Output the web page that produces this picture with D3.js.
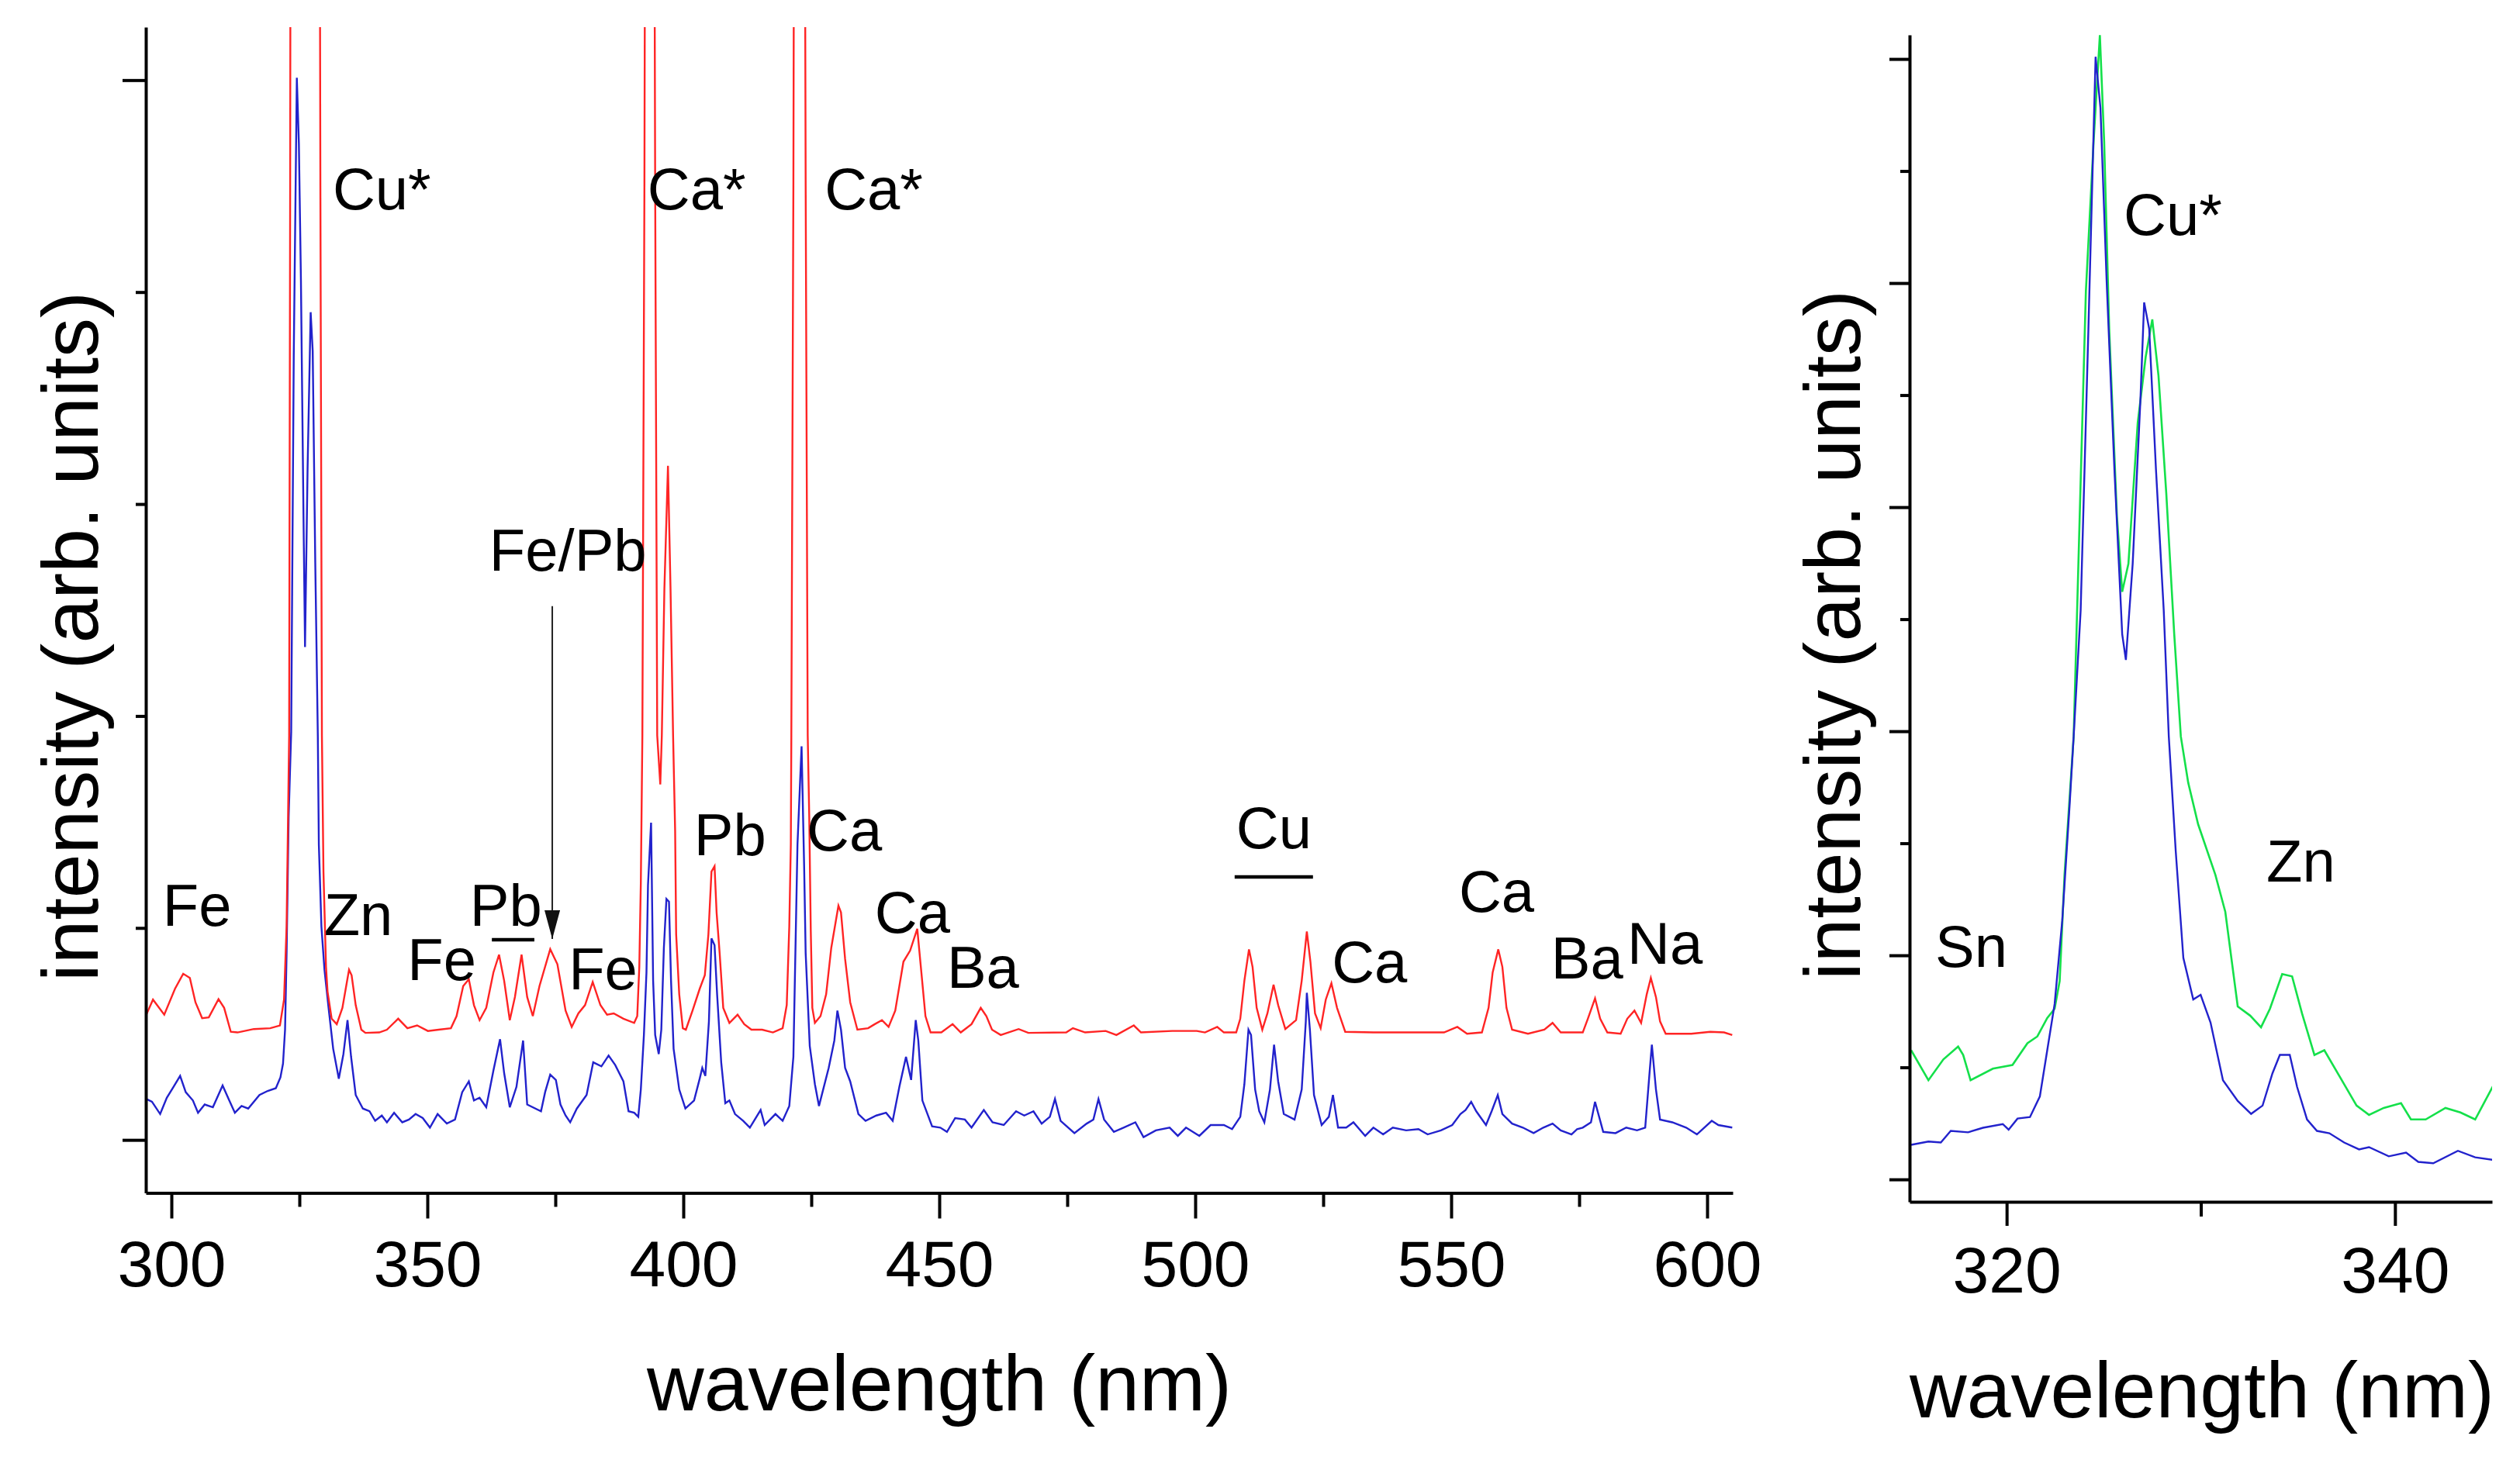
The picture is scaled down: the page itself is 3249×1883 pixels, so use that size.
<!DOCTYPE html>
<html>
<head>
<meta charset="utf-8">
<script src="https://cdn.jsdelivr.net/npm/d3@7"></script>
<style>
  body { margin: 0; background: #fff; }
  text { font-family: "Liberation Sans", Arial, sans-serif; fill: #000; }
</style>
</head>
<body>
<div id="chart"></div>
<script>
// main spectrum, red trace: [wavelength nm, intensity]
var mainRed = [
  [295.1,591],[296.4,662],[298.6,591],[300.7,713],[302.3,784],[303.6,764],[304.7,649],[306.0,574],
  [307.3,578],[309.2,664],[310.3,623],[311.6,510],[312.9,507],[316.1,523],[319.3,527],[321.2,540],
  [322.0,662],[322.5,1008],[322.7,1368],[323.0,1908],[323.2,4500],[323.4,9000],[324.7,12000],[326.0,9000],
  [327.4,11000],[328.8,8000],[329.1,4500],[329.4,1908],[329.7,1266],[330.2,816],[330.5,700],[331.3,572],
  [332.3,546],[333.4,623],[334.7,803],[335.2,777],[336.0,636],[337.1,520],[337.9,505],[340.6,507],
  [342.1,520],[344.3,572],[346.1,527],[348.0,540],[350.1,514],[352.2,520],[354.6,527],[355.7,584],
  [357.0,726],[358.1,758],[359.1,636],[360.2,565],[361.5,623],[362.9,790],[364.0,874],[365.0,751],
  [366.1,565],[367.1,674],[368.4,874],[369.5,674],[370.6,584],[371.9,726],[374.0,900],[375.4,829],
  [377.0,610],[378.2,533],[379.5,597],[380.8,636],[382.3,745],[383.8,636],[385.1,591],[386.4,597],
  [388.3,572],[390.4,552],[391.0,584],[391.4,816],[391.7,1214],[392.0,1908],[392.4,4500],[392.8,9000],
  [394.0,9000],[394.5,4500],[394.9,1908],[395.5,1677],[395.8,1908],[396.3,2600],[397.0,3180],[397.5,2600],
  [398.0,1908],[398.4,1458],[398.6,970],[399.2,687],[399.9,527],[400.5,520],[401.8,610],[403.2,713],
  [404.2,777],[404.9,970],[405.5,1266],[406.1,1291],[406.5,1073],[407.1,880],[407.8,623],[409.0,552],
  [410.6,591],[411.9,546],[413.3,520],[415.4,520],[417.5,507],[419.4,527],[420.2,636],[420.7,1008],
  [421.0,1394],[421.1,1908],[421.5,4500],[421.9,9000],[423.4,9000],[423.9,4500],[424.3,1908],[424.6,1522],
  [424.9,983],[425.2,623],[425.7,552],[426.8,584],[427.9,687],[428.9,906],[430.3,1105],[430.8,1073],
  [431.6,854],[432.6,649],[434.0,520],[436.1,527],[437.4,546],[438.8,565],[440.1,533],[441.4,610],
  [443.0,841],[444.3,893],[445.7,996],[446.5,790],[447.3,584],[448.3,507],[450.4,507],[452.6,546],
  [454.2,507],[456.3,546],[458.1,623],[459.2,584],[460.3,520],[462.0,495],[465.5,523],[467.4,505],
  [474.8,507],[476.1,527],[478.5,507],[482.5,514],[484.6,495],[488.0,540],[489.4,507],[495.5,514],
  [500.3,514],[501.9,507],[504.3,533],[505.6,507],[508.0,507],[508.8,572],[509.6,751],[510.5,899],
  [511.2,816],[512.0,623],[513.1,520],[514.1,597],[515.3,732],[516.2,636],[517.6,523],[519.7,565],
  [520.8,751],[521.8,983],[522.5,841],[523.4,597],[524.5,527],[525.5,662],[526.6,739],[527.7,623],
  [529.3,510],[534.8,507],[543.8,507],[548.6,507],[551.2,533],[553.1,501],[556.0,507],[557.3,623],
  [558.1,790],[559.2,899],[560.0,816],[560.8,623],[561.9,520],[565.0,501],[568.2,520],[569.8,552],
  [571.4,507],[575.7,507],[576.7,572],[578.1,668],[579.1,572],[580.5,507],[583.1,501],[584.4,572],
  [585.8,610],[587.1,552],[588.2,687],[589.0,764],[590.0,674],[590.8,559],[591.9,501],[596.9,501],
  [600.6,510],[603.3,507],[604.9,495]
];

// main spectrum, blue trace
var mainBlue = [
  [295.1,193],[296.2,180],[297.8,122],[299.1,199],[300.4,250],[301.7,302],[302.8,225],[304.2,186],
  [305.2,128],[306.5,167],[308.1,154],[310.0,257],[311.3,186],[312.4,128],[313.7,160],[315.0,148],
  [317.2,212],[318.8,231],[320.4,244],[321.3,295],[321.8,360],[322.2,520],[322.5,880],[322.9,1523],
  [323.4,1926],[323.9,3701],[324.5,5011],[324.9,4700],[325.3,4056],[325.8,2946],[326.1,2325],[326.6,3168],
  [327.2,3905],[327.6,3723],[328.1,2725],[328.6,1908],[328.8,1394],[329.3,1008],[329.9,803],[330.7,623],
  [331.6,430],[332.7,289],[333.6,405],[334.4,565],[335.1,392],[336.0,212],[337.4,148],[338.7,135],
  [339.8,90],[341.1,115],[342.1,83],[343.5,128],[345.1,83],[346.4,96],[347.7,122],[349.1,103],
  [350.5,58],[352.0,122],[353.8,77],[355.4,96],[356.8,225],[358.1,276],[359.1,186],[360.2,199],
  [361.5,154],[362.9,327],[364.2,475],[365.0,315],[366.1,154],[367.4,250],[368.7,469],[369.5,167],
  [372.2,135],[373.0,225],[374.0,308],[375.1,283],[376.0,167],[377.0,115],[377.9,83],[379.2,148],
  [381.1,212],[382.4,366],[384.0,347],[385.4,398],[386.7,353],[388.3,276],[389.3,135],[390.4,128],
  [391.2,109],[391.7,238],[392.3,495],[392.8,790],[393.1,1201],[393.7,1497],[394.1,752],[394.5,495],
  [395.2,405],[395.7,520],[396.2,906],[396.7,1137],[397.2,1124],[397.6,752],[398.1,430],[399.2,238],
  [400.4,148],[402.1,186],[403.2,289],[403.7,340],[404.3,302],[405.0,559],[405.5,951],[406.1,919],
  [406.6,687],[407.4,366],[408.2,173],[409.0,186],[410.1,122],[411.7,90],[413.0,58],[415.1,141],
  [415.9,70],[418.0,122],[419.4,90],[420.7,160],[421.5,392],[422.3,1394],[423.1,1857],[423.6,1291],
  [423.9,880],[424.7,443],[425.7,263],[426.5,160],[428.4,340],[429.5,469],[430.1,610],[430.8,520],
  [431.6,340],[432.6,276],[434.2,122],[435.6,90],[437.7,115],[439.6,128],[440.9,90],[442.2,250],
  [443.5,392],[444.5,283],[445.4,565],[445.9,469],[446.7,186],[448.6,64],[450.2,58],[451.5,38],
  [453.1,103],[455.0,96],[456.3,58],[458.7,141],[460.4,83],[462.6,70],[465.0,135],[466.6,115],
  [468.4,135],[470.0,77],[471.6,109],[472.6,193],[473.7,90],[476.4,32],[478.8,77],[480.1,96],
  [481.1,193],[482.2,96],[484.1,38],[486.0,58],[488.3,83],[489.9,13],[492.3,45],[495.0,58],
  [496.6,19],[498.2,58],[500.8,19],[503.0,70],[505.6,70],[507.2,51],[508.8,109],[509.6,263],
  [510.4,520],[510.9,495],[511.7,238],[512.5,135],[513.5,83],[514.6,238],[515.4,449],[516.2,276],
  [517.3,122],[519.4,96],[520.8,238],[521.6,559],[521.8,694],[522.4,520],[523.2,212],[524.7,70],
  [526.1,109],[526.9,212],[527.9,58],[529.5,58],[530.9,83],[533.2,19],[534.8,58],[536.7,26],
  [538.6,58],[541.2,45],[543.6,51],[545.4,26],[548.0,45],[550.2,70],[551.8,122],[552.8,141],
  [553.9,180],[554.9,135],[556.8,70],[557.9,135],[559.1,212],[560.0,122],[561.9,77],[564.0,58],
  [566.1,32],[568.0,58],[569.8,77],[571.4,45],[573.5,26],[574.6,51],[575.7,58],[577.3,83],
  [578.1,180],[578.9,109],[579.7,38],[582.1,32],[584.2,58],[586.3,45],[587.9,58],[588.7,302],
  [589.2,449],[590.0,238],[590.8,96],[593.2,83],[595.9,58],[598.0,26],[600.9,90],[602.2,70],
  [604.9,58]
];

// inset (Cu* region), green trace
var insetGreen = [
  [315.08,1153],[315.97,885],[316.74,1071],[317.50,1186],[317.76,1111],[318.14,885],[319.29,988],[320.30,1021],
  [321.07,1215],[321.58,1276],[322.09,1441],[322.47,1523],[322.73,1770],[322.98,2718],[323.45,3953],[324.08,7928],
  [324.48,9269],[324.80,10213],[325.02,9269],[325.28,7592],[325.68,5915],[325.95,5244],[326.27,5495],[326.75,6753],
  [327.16,7341],[327.50,7676],[327.82,7173],[328.22,6124],[328.63,4867],[328.97,3953],[329.35,3541],[329.86,3170],
  [330.75,2718],[331.26,2388],[331.90,1544],[332.54,1462],[333.10,1358],[333.56,1523],[334.19,1833],[334.70,1812],
  [335.21,1482],[335.85,1111],[336.36,1153],[337.12,927],[338.02,659],[338.66,576],[339.42,638],[340.31,680],
  [340.82,535],[341.58,535],[342.60,638],[343.37,597],[344.13,535],[344.64,700],[345.08,844]
];

// inset, blue trace
var insetBlue = [
  [315.08,309],[315.97,338],[316.61,329],[317.12,433],[318.01,420],[318.78,461],[319.80,494],[320.10,444],
  [320.56,543],[321.20,556],[321.71,741],[322.09,1153],[322.47,1565],[322.86,2306],[323.24,3335],[323.45,3953],
  [323.81,5077],[324.21,7592],[324.58,10020],[324.83,9563],[325.15,8013],[325.55,6334],[325.95,4867],[326.14,4636],
  [326.49,5495],[326.89,6963],[327.08,7828],[327.34,7592],[327.69,6334],[328.09,5077],[328.35,3953],[328.71,2923],
  [329.10,1976],[329.61,1606],[329.99,1647],[330.50,1400],[331.14,885],[331.90,700],[332.59,585],[333.18,659],
  [333.69,947],[334.07,1111],[334.58,1111],[334.96,824],[335.47,535],[335.98,433],[336.62,412],[337.38,329],
  [338.15,268],[338.66,288],[339.68,206],[340.57,239],[341.20,156],[341.97,144],[343.24,255],[344.13,197],
  [345.08,173]
];

// tick values
var mainXMajor = [300, 350, 400, 450, 500, 550, 600];
var mainXMinor = [325, 375, 425, 475, 525, 575];
var mainYMajor = [0, 5000];
var mainYMinor = [1000, 2000, 3000, 4000];
var insetXMajor = [320, 340];
var insetXMinor = [330];
var insetYMajor = [0, 2000, 4000, 6000, 8000, 10000];
var insetYMinor = [1000, 3000, 5000, 7000, 9000];

// peak labels: [text, wavelength, intensity]
var mainLabels = [
  ["Cu*", 331.5, 4391], ["Ca*", 393.0, 4391], ["Ca*", 427.6, 4391], ["Fe/Pb", 362.1, 2686],
  ["Fe", 298.3, 1010], ["Zn", 329.8, 966], ["Fe", 346.1, 754], ["Pb", 358.3, 1010],
  ["Fe", 377.6, 710], ["Pb", 402.1, 1343], ["Ca", 424.1, 1365], ["Ca", 437.4, 977],
  ["Ba", 451.5, 718], ["Cu", 508.0, 1376], ["Ca", 526.7, 743], ["Ca", 551.5, 1076],
  ["Ba", 569.5, 761], ["Na", 584.4, 831]
];
// group bars: [from, to, intensity]
var mainBars = [[362.6, 370.9, 944], [507.7, 523.0, 1241]];
var insetLabels = [["Cu*", 326.03, 8430], ["Sn", 316.32, 1897], ["Zn", 333.38, 2658]];

var W = 3249, H = 1883;

var svg = d3.select("#chart")
  .append("svg")
  .attr("width", W)
  .attr("height", H);

var defs = svg.append("defs");

// arrow head for Fe/Pb pointer
defs.append("marker")
  .attr("id", "arrow")
  .attr("viewBox", "0 0 37 20")
  .attr("refX", 37).attr("refY", 10)
  .attr("markerWidth", 37).attr("markerHeight", 20)
  .attr("markerUnits", "userSpaceOnUse")
  .attr("orient", "auto")
  .append("path")
  .attr("d", "M0,0 L37,10 L0,20 z")
  .attr("fill", "#111");

// ---------- main panel ----------
var x = d3.scaleLinear().domain([295, 605]).range([188, 2234]);
var y = d3.scaleLinear().domain([-250, 5250]).range([1538.5, 35]);

defs.append("clipPath").attr("id", "clipMain")
  .append("rect")
  .attr("x", x.range()[0]).attr("y", y.range()[1])
  .attr("width", x.range()[1] - x.range()[0])
  .attr("height", y.range()[0] - y.range()[1]);

var lineMain = d3.line()
  .x(function (d) { return x(d[0]); })
  .y(function (d) { return y(d[1]); });

svg.append("path")
  .datum(mainBlue)
  .attr("clip-path", "url(#clipMain)")
  .attr("fill", "none")
  .attr("stroke", "#2222cc")
  .attr("stroke-width", 2.4)
  .attr("d", lineMain);

svg.append("path")
  .datum(mainRed)
  .attr("clip-path", "url(#clipMain)")
  .attr("fill", "none")
  .attr("stroke", "#ff2424")
  .attr("stroke-width", 2.4)
  .attr("d", lineMain);

// x axis
var gx = svg.append("g")
  .attr("transform", "translate(0," + y.range()[0] + ")")
  .call(d3.axisBottom(x).tickValues(mainXMajor).tickSize(33).tickSizeOuter(0).tickFormat(d3.format("d")));
gx.append("g")
  .call(d3.axisBottom(x).tickValues(mainXMinor).tickSize(18).tickSizeOuter(0).tickFormat(""))
  .select(".domain").remove();
gx.selectAll("text")
  .attr("y", 120).attr("dy", 0)
  .style("font-size", "84px");

// y axis
var gy = svg.append("g")
  .attr("transform", "translate(" + x.range()[0] + ",0)")
  .call(d3.axisLeft(y).tickValues(mainYMajor).tickSize(30).tickSizeOuter(0).tickFormat(""));
gy.append("g")
  .call(d3.axisLeft(y).tickValues(mainYMinor).tickSize(13).tickSizeOuter(0).tickFormat(""))
  .select(".domain").remove();

// axis titles
svg.append("text")
  .attr("x", 1211).attr("y", 1819)
  .style("text-anchor", "middle")
  .style("font-size", "102px")
  .text("wavelength (nm)");

svg.append("text")
  .attr("transform", "translate(126,821) rotate(-90)")
  .style("text-anchor", "middle")
  .style("font-size", "102px")
  .text("intensity (arb. units)");

// peak labels
svg.append("g")
  .selectAll("text")
  .data(mainLabels)
  .enter()
  .append("text")
  .attr("x", function (d) { return x(d[1]); })
  .attr("y", function (d) { return y(d[2]); })
  .style("font-size", "76px")
  .text(function (d) { return d[0]; });

svg.append("g")
  .selectAll("line")
  .data(mainBars)
  .enter()
  .append("line")
  .attr("x1", function (d) { return x(d[0]); })
  .attr("x2", function (d) { return x(d[1]); })
  .attr("y1", function (d) { return y(d[2]); })
  .attr("y2", function (d) { return y(d[2]); })
  .attr("stroke", "#000")
  .attr("stroke-width", 4.5);

// Fe/Pb arrow
svg.append("line")
  .attr("x1", x(374.4)).attr("x2", x(374.4))
  .attr("y1", y(2518)).attr("y2", y(948))
  .attr("stroke", "#222")
  .attr("stroke-width", 2)
  .attr("marker-end", "url(#arrow)");

// ---------- inset panel ----------
var x2 = d3.scaleLinear().domain([315, 345]).range([2462, 3213]);
var y2 = d3.scaleLinear().domain([-200, 10215]).range([1550, 45]);

defs.append("clipPath").attr("id", "clipInset")
  .append("rect")
  .attr("x", x2.range()[0]).attr("y", y2.range()[1])
  .attr("width", x2.range()[1] - x2.range()[0])
  .attr("height", y2.range()[0] - y2.range()[1]);

var lineInset = d3.line()
  .x(function (d) { return x2(d[0]); })
  .y(function (d) { return y2(d[1]); });

svg.append("path")
  .datum(insetGreen)
  .attr("clip-path", "url(#clipInset)")
  .attr("fill", "none")
  .attr("stroke", "#14e04a")
  .attr("stroke-width", 2.6)
  .attr("d", lineInset);

svg.append("path")
  .datum(insetBlue)
  .attr("clip-path", "url(#clipInset)")
  .attr("fill", "none")
  .attr("stroke", "#2222cc")
  .attr("stroke-width", 2.4)
  .attr("d", lineInset);

var gx2 = svg.append("g")
  .attr("transform", "translate(0," + y2.range()[0] + ")")
  .call(d3.axisBottom(x2).tickValues(insetXMajor).tickSize(31).tickSizeOuter(0).tickFormat(d3.format("d")));
gx2.append("g")
  .call(d3.axisBottom(x2).tickValues(insetXMinor).tickSize(19).tickSizeOuter(0).tickFormat(""))
  .select(".domain").remove();
gx2.selectAll("text")
  .attr("y", 117).attr("dy", 0)
  .style("font-size", "84px");

var gy2 = svg.append("g")
  .attr("transform", "translate(" + x2.range()[0] + ",0)")
  .call(d3.axisLeft(y2).tickValues(insetYMajor).tickSize(26).tickSizeOuter(0).tickFormat(""));
gy2.append("g")
  .call(d3.axisLeft(y2).tickValues(insetYMinor).tickSize(12).tickSizeOuter(0).tickFormat(""))
  .select(".domain").remove();

svg.append("text")
  .attr("x", 2839).attr("y", 1828)
  .style("text-anchor", "middle")
  .style("font-size", "102px")
  .text("wavelength (nm)");

svg.append("text")
  .attr("transform", "translate(2398,819) rotate(-90)")
  .style("text-anchor", "middle")
  .style("font-size", "102px")
  .text("intensity (arb. units)");

svg.append("g")
  .selectAll("text")
  .data(insetLabels)
  .enter()
  .append("text")
  .attr("x", function (d) { return x2(d[1]); })
  .attr("y", function (d) { return y2(d[2]); })
  .style("font-size", "76px")
  .text(function (d) { return d[0]; });

// axis line and tick weights
svg.selectAll(".domain").attr("stroke-width", 4);
svg.selectAll(".tick line").attr("stroke-width", 4);
svg.selectAll(".tick text").style("font-family", "'Liberation Sans', Arial, sans-serif").attr("fill", "#000");
</script>
</body>
</html>
